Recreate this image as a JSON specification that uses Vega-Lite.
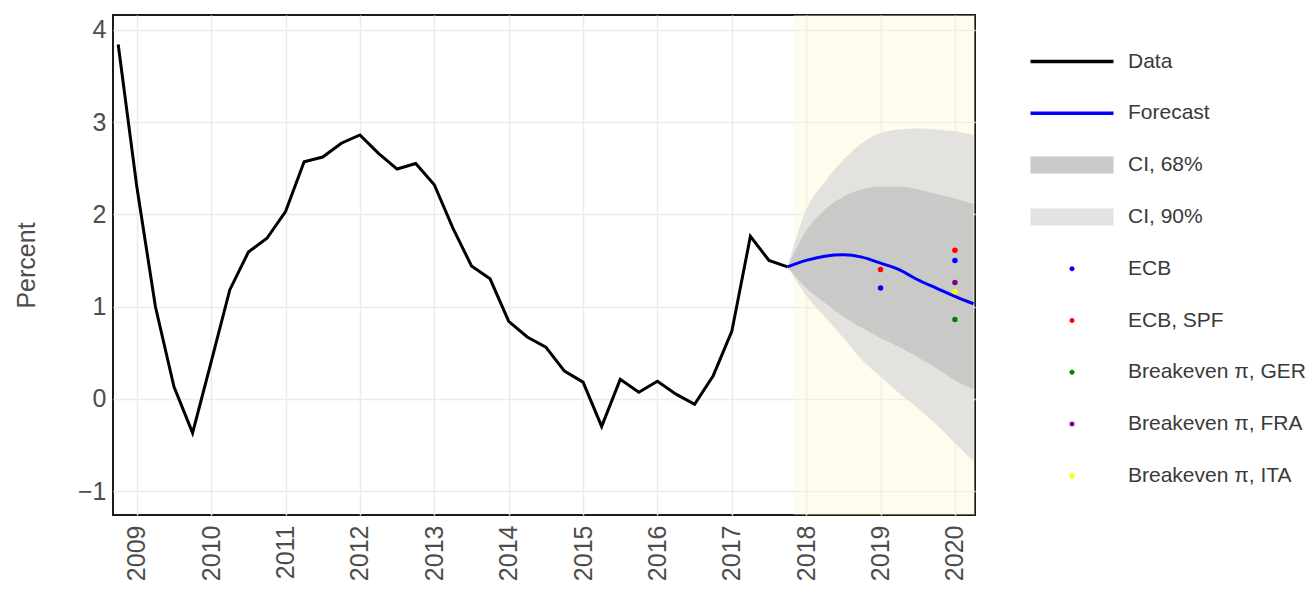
{
  "$schema": "https://vega.github.io/schema/vega-lite/v6.json",
  "width": 862,
  "height": 500,
  "autosize": "none",
  "padding": {"left": 113, "top": 15, "right": 337, "bottom": 82},
  "background": "white",
  "config": {
    "font": "Liberation Sans",
    "view": {"stroke": "#1a1a1a", "strokeWidth": 2},
    "axis": {
      "domain": false,
      "ticks": false,
      "grid": true,
      "gridColor": "#ebebeb",
      "gridWidth": 1.5,
      "labelFont": "Liberation Sans",
      "labelFontSize": 25,
      "labelColor": "#4d4d4d",
      "titleFont": "Liberation Sans",
      "titleFontSize": 25,
      "titleFontWeight": "normal",
      "titleColor": "#4d4d4d"
    }
  },
  "datasets": {
    "period": [{"start": 2017.83, "end": 2020.27}],
    "hist": [
      {"t": 2008.75, "v": 3.84}, {"t": 2009.0, "v": 2.30}, {"t": 2009.25, "v": 1.00}, {"t": 2009.5, "v": 0.13},
      {"t": 2009.75, "v": -0.37}, {"t": 2010.0, "v": 0.40}, {"t": 2010.25, "v": 1.18}, {"t": 2010.5, "v": 1.59},
      {"t": 2010.75, "v": 1.74}, {"t": 2011.0, "v": 2.03}, {"t": 2011.25, "v": 2.57}, {"t": 2011.5, "v": 2.62},
      {"t": 2011.75, "v": 2.77}, {"t": 2012.0, "v": 2.86}, {"t": 2012.25, "v": 2.66}, {"t": 2012.5, "v": 2.49},
      {"t": 2012.75, "v": 2.55}, {"t": 2013.0, "v": 2.32}, {"t": 2013.25, "v": 1.85}, {"t": 2013.5, "v": 1.44},
      {"t": 2013.75, "v": 1.30}, {"t": 2014.0, "v": 0.84}, {"t": 2014.25, "v": 0.67}, {"t": 2014.5, "v": 0.56},
      {"t": 2014.75, "v": 0.30}, {"t": 2015.0, "v": 0.18}, {"t": 2015.25, "v": -0.30}, {"t": 2015.5, "v": 0.21},
      {"t": 2015.75, "v": 0.07}, {"t": 2016.0, "v": 0.19}, {"t": 2016.25, "v": 0.05}, {"t": 2016.5, "v": -0.06},
      {"t": 2016.75, "v": 0.25}, {"t": 2017.0, "v": 0.73}, {"t": 2017.25, "v": 1.76}, {"t": 2017.5, "v": 1.50},
      {"t": 2017.75, "v": 1.43}
    ],
    "fc": [
      {"t": 2017.75, "v": 1.43}, {"t": 2018.0, "v": 1.50}, {"t": 2018.25, "v": 1.545}, {"t": 2018.5, "v": 1.56},
      {"t": 2018.75, "v": 1.535}, {"t": 2019.0, "v": 1.47}, {"t": 2019.25, "v": 1.40}, {"t": 2019.5, "v": 1.29},
      {"t": 2019.75, "v": 1.20}, {"t": 2020.0, "v": 1.11}, {"t": 2020.25, "v": 1.03}
    ],
    "ci": [
      {"t": 2017.75, "lo68": 1.43, "hi68": 1.43, "lo90": 1.43, "hi90": 1.43},
      {"t": 2018.0, "lo68": 1.20, "hi68": 1.82, "lo90": 1.12, "hi90": 2.05},
      {"t": 2018.25, "lo68": 1.04, "hi68": 2.05, "lo90": 0.89, "hi90": 2.35},
      {"t": 2018.5, "lo68": 0.89, "hi68": 2.19, "lo90": 0.66, "hi90": 2.59},
      {"t": 2018.75, "lo68": 0.77, "hi68": 2.27, "lo90": 0.42, "hi90": 2.77},
      {"t": 2019.0, "lo68": 0.66, "hi68": 2.30, "lo90": 0.24, "hi90": 2.88},
      {"t": 2019.25, "lo68": 0.56, "hi68": 2.30, "lo90": 0.06, "hi90": 2.92},
      {"t": 2019.5, "lo68": 0.45, "hi68": 2.27, "lo90": -0.10, "hi90": 2.93},
      {"t": 2019.75, "lo68": 0.33, "hi68": 2.22, "lo90": -0.28, "hi90": 2.92},
      {"t": 2020.0, "lo68": 0.20, "hi68": 2.17, "lo90": -0.48, "hi90": 2.90},
      {"t": 2020.25, "lo68": 0.10, "hi68": 2.11, "lo90": -0.68, "hi90": 2.86}
    ],
    "dots": [
      {"t": 2019.0, "v": 1.20, "series": "ECB"},
      {"t": 2019.0, "v": 1.40, "series": "ECB, SPF"},
      {"t": 2020.0, "v": 1.50, "series": "ECB"},
      {"t": 2020.0, "v": 1.61, "series": "ECB, SPF"},
      {"t": 2020.0, "v": 0.86, "series": "Breakeven π, GER"},
      {"t": 2020.0, "v": 1.26, "series": "Breakeven π, FRA"},
      {"t": 2020.0, "v": 1.16, "series": "Breakeven π, ITA"}
    ]
  },
  "layer": [
    {
      "data": {"name": "period"},
      "mark": {"type": "rect", "fill": "#fdf6c8", "opacity": 0.35},
      "encoding": {
        "x": {"field": "start", "type": "quantitative", "scale": {"domain": [2008.68, 2020.27], "nice": false, "zero": false},
              "axis": {"title": null, "values": [2009, 2010, 2011, 2012, 2013, 2014, 2015, 2016, 2017, 2018, 2019, 2020], "format": "d", "labelAngle": 270, "labelPadding": 10}},
        "x2": {"field": "end"},
        "y": {"datum": 4.16, "type": "quantitative", "scale": {"domain": [-1.26, 4.16], "nice": false, "zero": false},
              "axis": {"title": "Percent", "values": [-1, 0, 1, 2, 3, 4], "format": "d", "labelPadding": 7, "titlePadding": 38}},
        "y2": {"datum": -1.26}
      }
    },
    {
      "data": {"name": "ci"},
      "mark": {"type": "area", "color": "#e3e2de", "interpolate": "monotone", "opacity": 1, "clip": true},
      "encoding": {
        "x": {"field": "t", "type": "quantitative", "scale": {"domain": [2008.68, 2020.27], "nice": false, "zero": false}},
        "y": {"field": "lo90", "type": "quantitative", "scale": {"domain": [-1.26, 4.16], "nice": false, "zero": false}},
        "y2": {"field": "hi90"}
      }
    },
    {
      "data": {"name": "ci"},
      "mark": {"type": "area", "color": "#c9c9c7", "interpolate": "monotone", "opacity": 1, "clip": true},
      "encoding": {
        "x": {"field": "t", "type": "quantitative", "scale": {"domain": [2008.68, 2020.27], "nice": false, "zero": false}},
        "y": {"field": "lo68", "type": "quantitative", "scale": {"domain": [-1.26, 4.16], "nice": false, "zero": false}},
        "y2": {"field": "hi68"}
      }
    },
    {
      "data": {"name": "hist"},
      "mark": {"type": "line", "color": "#000000", "strokeWidth": 3, "clip": true},
      "encoding": {
        "x": {"field": "t", "type": "quantitative", "scale": {"domain": [2008.68, 2020.27], "nice": false, "zero": false}},
        "y": {"field": "v", "type": "quantitative", "scale": {"domain": [-1.26, 4.16], "nice": false, "zero": false}}
      }
    },
    {
      "data": {"name": "fc"},
      "mark": {"type": "line", "color": "#0000ff", "strokeWidth": 3, "interpolate": "monotone", "clip": true},
      "encoding": {
        "x": {"field": "t", "type": "quantitative", "scale": {"domain": [2008.68, 2020.27], "nice": false, "zero": false}},
        "y": {"field": "v", "type": "quantitative", "scale": {"domain": [-1.26, 4.16], "nice": false, "zero": false}}
      }
    },
    {
      "data": {"name": "dots"},
      "mark": {"type": "point", "filled": true, "opacity": 1, "size": 30, "strokeWidth": 0},
      "encoding": {
        "x": {"field": "t", "type": "quantitative", "scale": {"domain": [2008.68, 2020.27], "nice": false, "zero": false}},
        "y": {"field": "v", "type": "quantitative", "scale": {"domain": [-1.26, 4.16], "nice": false, "zero": false}},
        "color": {
          "field": "series", "type": "nominal",
          "scale": {
            "domain": ["Data", "Forecast", "CI, 68%", "CI, 90%", "ECB", "ECB, SPF", "Breakeven π, GER", "Breakeven π, FRA", "Breakeven π, ITA"],
            "range": ["#000000", "#0000ff", "#c9c9c9", "#e3e3e3", "#0000ff", "#ff0000", "#008000", "#800080", "#ffff00"]
          },
          "legend": {
            "title": null,
            "orient": "none",
            "legendX": 917,
            "legendY": 36,
            "padding": 0,
            "symbolSize": 400,
            "symbolStrokeWidth": 0,
            "symbolOpacity": 1,
            "labelFont": "Liberation Sans",
            "labelFontSize": 21,
            "labelColor": "#3a3a3a",
            "labelOffset": 77,
            "rowPadding": 29.8,
            "labelLimit": 300,
            "encode": {
              "symbols": {
                "update": {
                  "shape": {"signal": "indexof(['Data','Forecast'], datum.value) >= 0 ? 'M-1,-0.18H7.3V0.18H-1Z' : (indexof(['CI, 68%','CI, 90%'], datum.value) >= 0 ? 'M-1,-0.85H7.3V0.85H-1Z' : 'M2.9,0A0.25,0.25,0,1,0,3.4,0A0.25,0.25,0,1,0,2.9,0Z')"}
                }
              }
            }
          }
        }
      }
    }
  ]
}
